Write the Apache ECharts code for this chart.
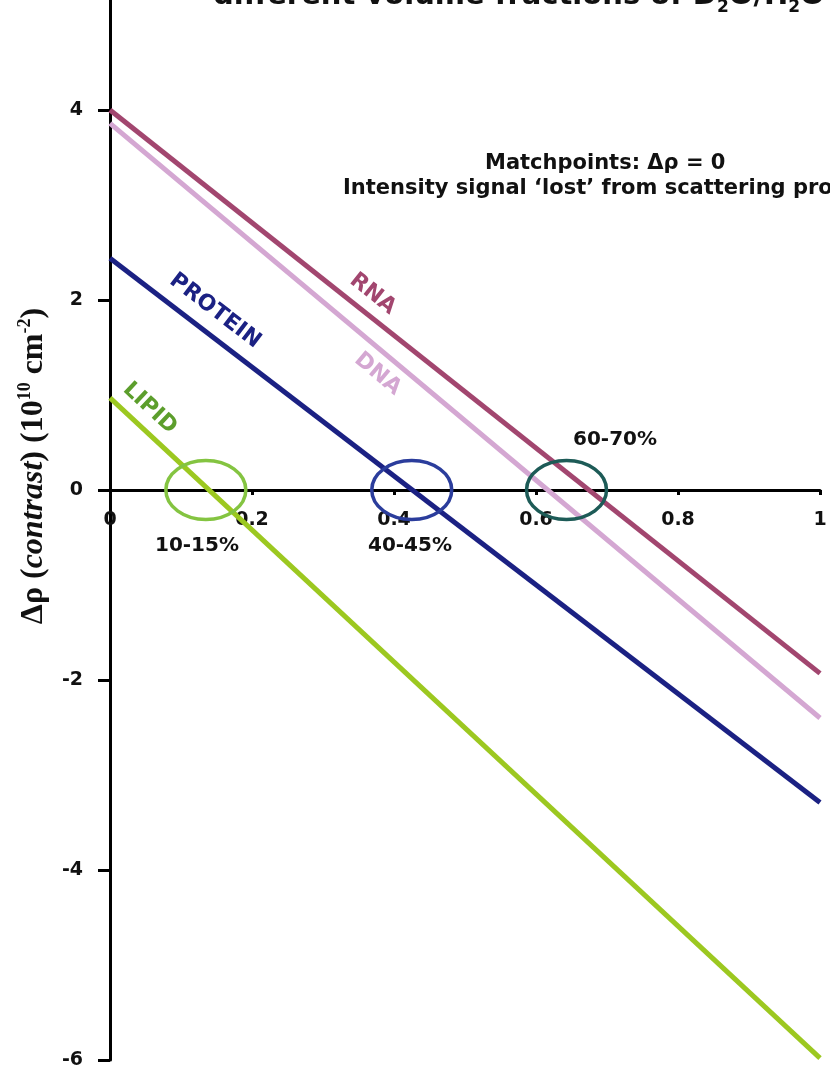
<!DOCTYPE html>
<html>
<head>
<meta charset="utf-8">
<script src="https://cdn.jsdelivr.net/npm/echarts@6/dist/echarts.min.js"></script>
<style>
  html, body { margin: 0; padding: 0; background: #ffffff; }
  #chart { width: 830px; height: 1071px; }
</style>
</head>
<body>
<div id="chart"></div>
<script>
// D2O volume fraction at the two ends of each contrast line
const fractionD2O = [0, 1];
// Contrast (10^10 cm^-2) at those fractions
const rnaContrast = [4.0, -1.93];
const dnaContrast = [3.86, -2.40];
const proteinContrast = [2.44, -3.29];
const lipidContrast = [0.97, -5.98];
const seriesNames = ['RNA', 'DNA', 'PROTEIN', 'LIPID'];

// Axis ticks
const xTicks = [0, 0.2, 0.4, 0.6, 0.8, 1];
const yTicks = [-6, -4, -2, 0, 2, 4, 6];

// Matchpoints (where each contrast line crosses zero) and their range labels
const matchCentres = [0.135, 0.425, 0.643];
const matchRanges = ['10-15%', '40-45%', '60-70%'];
const matchRangeX = [0.1225, 0.4225, 0.7113];
const matchRangeY = [-0.59, -0.59, 0.526];

// Where each line's name sits (data coordinates)
const nameAtX = [0.370, 0.377, 0.148, 0.056];
const nameAtY = [2.063, 1.22, 1.884, 0.86];

const lineColors = ['#a2466f', '#d4a7d2', '#1b2183', '#9cc820'];
const nameColors = ['#a2466f', '#d4a7d2', '#1b2183', '#5c9e2c'];
const circleColors = ['#84c441', '#2b3d9c', '#1d5b57'];

const SANS = 'DejaVu Sans';
const SERIF = 'Liberation Serif';

const contrasts = [rnaContrast, dnaContrast, proteinContrast, lipidContrast];

const chart = echarts.init(document.getElementById('chart'), null, { renderer: 'canvas' });

const lineSeries = seriesNames.map((name, i) => ({
  name: name,
  type: 'line',
  data: fractionD2O.map((f, k) => [f, contrasts[i][k]]),
  showSymbol: false,
  symbol: 'none',
  lineStyle: { color: lineColors[i], width: 5, cap: 'butt' },
  z: 3,
  silent: true
}));

const matchSeries = {
  type: 'custom',
  z: 4,
  silent: true,
  clip: false,
  data: matchCentres.map((c, i) => [c, matchRangeX[i], matchRangeY[i], i]),
  renderItem: function (params, api) {
    const i = api.value(3);
    const centre = api.coord([api.value(0), 0]);
    const textPos = api.coord([api.value(1), api.value(2)]);
    return {
      type: 'group',
      children: [
        {
          type: 'ellipse',
          shape: { cx: centre[0], cy: centre[1], rx: 40, ry: 29.5 },
          style: { fill: 'none', stroke: circleColors[i], lineWidth: 3.5 }
        },
        {
          type: 'text',
          x: textPos[0],
          y: textPos[1],
          style: {
            text: matchRanges[i],
            fill: '#111111',
            font: 'bold 20px "' + SANS + '"',
            align: 'center',
            verticalAlign: 'middle'
          }
        }
      ]
    };
  }
};

const axisFont = { fontFamily: SANS, fontWeight: 'bold', fontSize: 19, color: '#111111' };

const xAxisOption = {
  type: 'value',
  min: xTicks[0],
  max: xTicks[xTicks.length - 1],
  interval: xTicks[1] - xTicks[0],
  position: 'bottom',
  offset: 0,
  axisLine: { onZero: false, lineStyle: { color: '#000000', width: 3 } },
  axisTick: { show: true, length: 5, lineStyle: { color: '#000000', width: 3 } },
  axisLabel: Object.assign({ margin: 21 }, axisFont),
  splitLine: { show: false },
  z: 1
};

const option = {
  animation: false,
  backgroundColor: '#ffffff',
  grid: { left: 110, right: 10, top: -80, bottom: 11, containLabel: false, outerBoundsMode: 'none' },
  xAxis: xAxisOption,
  yAxis: {
    type: 'value',
    min: yTicks[0],
    max: yTicks[yTicks.length - 1],
    interval: yTicks[1] - yTicks[0],
    axisLine: { show: true, onZero: false, lineStyle: { color: '#000000', width: 3 } },
    axisTick: { show: true, length: 12, lineStyle: { color: '#000000', width: 3 } },
    axisLabel: Object.assign({ margin: 27 }, axisFont),
    splitLine: { show: false },
    z: 1
  },
  graphic: [
    {
      type: 'text',
      x: 213,
      y: -4,
      style: {
        text: '{b|different volume fractions of D}{s|2}{b|O/H}{s|2}{b|O}',
        rich: {
          b: { fontFamily: SANS, fontWeight: 'bold', fontSize: 29, lineHeight: 40, fill: '#111111' },
          s: { fontFamily: SANS, fontWeight: 'bold', fontSize: 17, lineHeight: 17, verticalAlign: 'bottom', fill: '#111111' }
        },
        align: 'left',
        verticalAlign: 'middle'
      }
    },
    {
      type: 'text',
      x: 34,
      y: 466,
      rotation: Math.PI / 2,
      style: {
        text: '{n|Δρ (}{i|contrast}{n|) (10}{s|10}{n| cm}{s|-2}{n|)}',
        rich: {
          n: { fontFamily: SERIF, fontWeight: 'bold', fontSize: 32, lineHeight: 36, fill: '#111111' },
          i: { fontFamily: SERIF, fontWeight: 'bold', fontStyle: 'italic', fontSize: 32, lineHeight: 36, fill: '#111111' },
          s: { fontFamily: SERIF, fontWeight: 'bold', fontSize: 18, lineHeight: 18, verticalAlign: 'top', fill: '#111111' }
        },
        align: 'center',
        verticalAlign: 'middle'
      }
    },
    {
      type: 'text',
      x: 485,
      y: 164,
      style: {
        text: 'Matchpoints: Δρ = 0',
        font: 'bold 21px "' + SANS + '"',
        fill: '#111111',
        align: 'left',
        verticalAlign: 'middle'
      }
    },
    {
      type: 'text',
      x: 343,
      y: 189,
      style: {
        text: 'Intensity signal ‘lost’ from scattering profile',
        font: 'bold 21px "' + SANS + '"',
        fill: '#111111',
        align: 'left',
        verticalAlign: 'middle'
      }
    }
  ],
  series: lineSeries.concat([matchSeries])
};

chart.setOption(option);

// Put the x axis through contrast = 0
const yBottom = chart.convertToPixel({ yAxisIndex: 0 }, yTicks[0]);
const yZero = chart.convertToPixel({ yAxisIndex: 0 }, 0);

// Line names follow the slope of their line on screen
const nameData = seriesNames.map((name, i) => {
  const p0 = chart.convertToPixel({ gridIndex: 0 }, [fractionD2O[0], contrasts[i][0]]);
  const p1 = chart.convertToPixel({ gridIndex: 0 }, [fractionD2O[1], contrasts[i][1]]);
  const angle = -Math.atan2(p1[1] - p0[1], p1[0] - p0[0]) * 180 / Math.PI;
  return {
    name: name,
    value: [nameAtX[i], nameAtY[i]],
    label: { color: nameColors[i], rotate: angle }
  };
});

chart.setOption({
  xAxis: Object.assign({}, xAxisOption, { offset: -(yBottom - yZero) }),
  series: lineSeries.concat([matchSeries, {
    type: 'scatter',
    symbolSize: 0,
    silent: true,
    z: 5,
    itemStyle: { opacity: 1 },
    data: nameData,
    label: {
      show: true,
      position: 'inside',
      formatter: '{b}',
      fontFamily: SANS,
      fontWeight: 'bold',
      fontSize: 22,
      opacity: 1
    }
  }])
});
</script>
</body>
</html>
